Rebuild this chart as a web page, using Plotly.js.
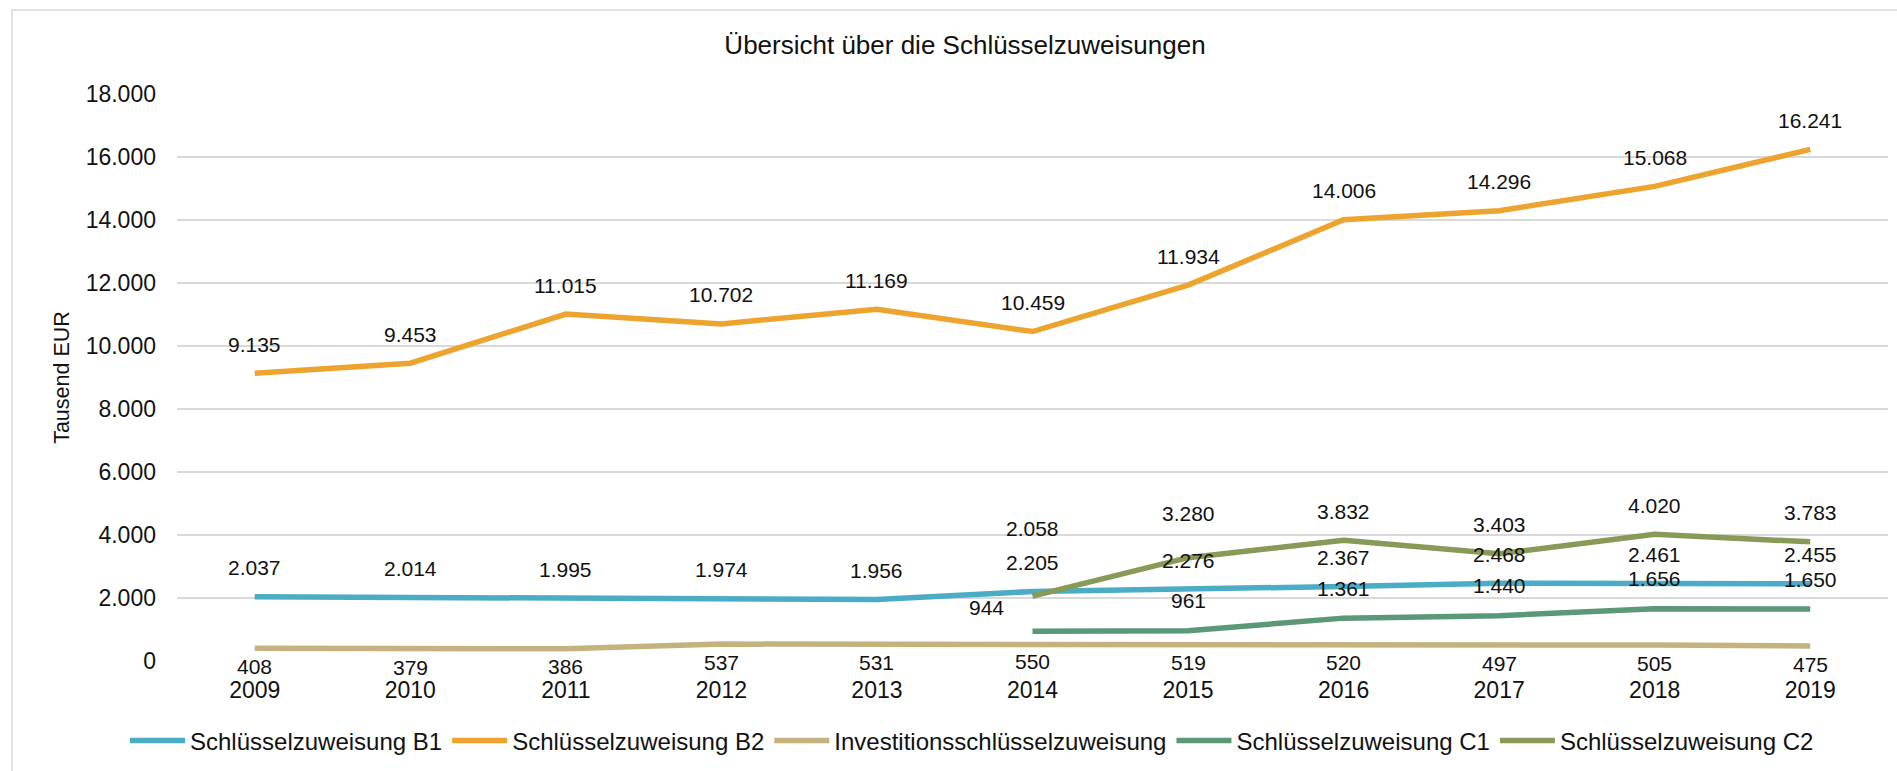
<!DOCTYPE html>
<html>
<head>
<meta charset="utf-8">
<script src="https://cdn.plot.ly/plotly-3.0.1.min.js"></script>
<style>
html,body{margin:0;padding:0;background:#fff;}
#chart{width:1897px;height:771px;}
</style>
</head>
<body>
<div id="chart"></div>
<script>
const years = ['2009','2010','2011','2012','2013','2014','2015','2016','2017','2018','2019'];
const b1 = [2037, 2014, 1995, 1974, 1956, 2205, 2276, 2367, 2468, 2461, 2455];
const b2 = [9135, 9453, 11015, 10702, 11169, 10459, 11934, 14006, 14296, 15068, 16241];
const inv = [408, 379, 386, 537, 531, 550, 519, 520, 497, 505, 475];
const c1 = [null, null, null, null, null, 944, 961, 1361, 1440, 1656, 1650];
const c2 = [null, null, null, null, null, 2058, 3280, 3832, 3403, 4020, 3783];
const names = ['Schlüsselzuweisung B1', 'Schlüsselzuweisung B2', 'Investitionsschlüsselzuweisung', 'Schlüsselzuweisung C1', 'Schlüsselzuweisung C2'];
const yTicks = [0, 2000, 4000, 6000, 8000, 10000, 12000, 14000, 16000, 18000];

const FONT = 'Liberation Sans, Arial, sans-serif';
const colors = ['#4BACC6', '#EDA42E', '#C5B37E', '#5A9878', '#879A58'];
const series = [b1, b2, inv, c1, c2];
// label offsets (styling only)
const labelShift = [29, 29, -18, 30, 29];
const special = {
  '3-5': {xs: -46, ys: 24},
  '4-5': {xs: 0, ys: 68},
  '4-6': {xs: 0, ys: 44}
};

function fmt(v) {
  return String(v).replace(/\B(?=(\d{3})+(?!\d))/g, '.');
}

const traces = series.map((s, i) => ({
  type: 'scatter',
  mode: 'lines',
  x: years,
  y: s,
  name: names[i],
  line: {color: colors[i], width: 5.5},
  hoverinfo: 'skip'
}));

const annotations = [];
series.forEach((s, i) => {
  s.forEach((v, j) => {
    if (v === null) return;
    const sp = special[i + '-' + j];
    annotations.push({
      x: j, y: v, xref: 'x', yref: 'y',
      text: fmt(v), showarrow: false,
      xanchor: 'center', yanchor: 'middle',
      xshift: sp ? sp.xs : 0,
      yshift: sp ? sp.ys : labelShift[i],
      font: {family: FONT, size: 21, color: '#111'}
    });
  });
});

const W = 1897, H = 771;
const L = 177, R = 9, T = 94, B = 110;
const pw = W - L - R, ph = H - T - B;
const px = v => (v - L) / pw;
const py = v => (H - B - v) / ph;

const layout = {
  width: W, height: H,
  margin: {l: L, r: R, t: T, b: B, pad: 0},
  paper_bgcolor: '#ffffff',
  plot_bgcolor: '#ffffff',
  font: {family: FONT, color: '#111'},
  title: {
    text: 'Übersicht über die Schlüsselzuweisungen',
    font: {family: FONT, size: 26, color: '#111'},
    xref: 'container', yref: 'container',
    x: 965 / W, y: 1 - 45 / H, xanchor: 'center', yanchor: 'middle'
  },
  xaxis: {
    type: 'category',
    categoryorder: 'array', categoryarray: years,
    range: [-0.5, 10.5],
    showgrid: false, zeroline: false, showline: false,
    ticks: '', ticklabelstandoff: 13,
    tickfont: {family: FONT, size: 23, color: '#111'},
    fixedrange: true
  },
  yaxis: {
    range: [0, 18000],
    tickvals: yTicks,
    ticktext: yTicks.map(fmt),
    showgrid: true, gridcolor: '#D9D9D9', gridwidth: 2,
    zeroline: false, showline: false,
    ticks: '', ticklabelstandoff: 20,
    tickfont: {family: FONT, size: 23, color: '#111'},
    title: {text: 'Tausend EUR', font: {family: FONT, size: 21.5, color: '#111'}, standoff: 10},
    automargin: false,
    fixedrange: true
  },
  showlegend: true,
  legend: {
    orientation: 'h',
    xref: 'container', yref: 'container',
    x: 972 / W, y: 1 - 741 / H, xanchor: 'center', yanchor: 'middle',
    font: {family: FONT, size: 24, color: '#111'},
    itemwidth: 55,
    itemclick: false, itemdoubleclick: false,
    bgcolor: 'rgba(0,0,0,0)'
  },
  annotations: annotations,
  shapes: [{
    type: 'rect', xref: 'paper', yref: 'paper',
    x0: px(12), x1: px(1905), y0: py(780), y1: py(10),
    line: {color: '#D9D9D9', width: 1.5}, fillcolor: 'rgba(0,0,0,0)',
    layer: 'below'
  }]
};

Plotly.newPlot('chart', traces, layout, {displayModeBar: false, staticPlot: true});
</script>
</body>
</html>
